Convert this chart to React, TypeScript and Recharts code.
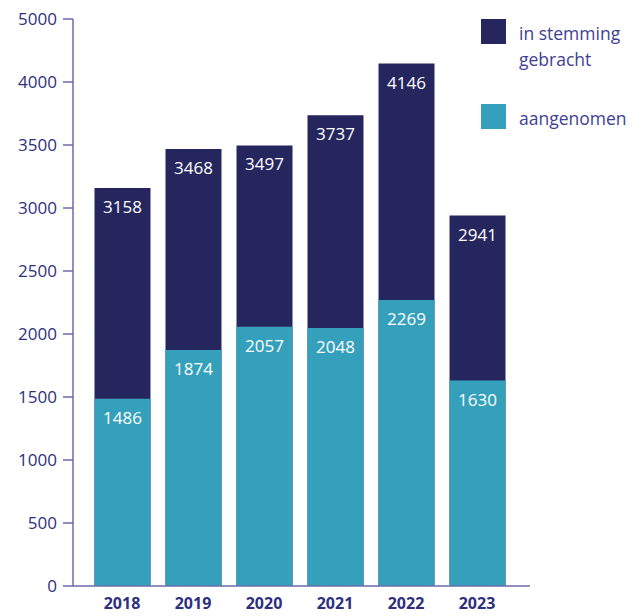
import React from "react";
import { BarChart, Bar, XAxis, YAxis, LabelList, Legend } from "recharts";

const years = ["2018", "2019", "2020", "2021", "2022", "2023"];
const inStemmingGebracht = [3158, 3468, 3497, 3737, 4146, 2941];
const aangenomen = [1486, 1874, 2057, 2048, 2269, 1630];
const yTicks = [0, 500, 1000, 1500, 2000, 2500, 3000, 3500, 4000, 4500];
const yTickLabels = ["0", "500", "1000", "1500", "2000", "2500", "3000", "3500", "4000", "5000"];

const DARK = "#26265f";
const TEAL = "#35a0bc";
const AXIS = "#6d6dab";
const TEXT = "#2e2f7e";
const FONT = "'Open Sans', sans-serif";

const data = years.map((y, i) => ({
  year: y,
  gebracht: inStemmingGebracht[i],
  aangenomen: aangenomen[i],
}));

const LegendContent = () => (
  <div style={{ position: "relative", width: 643, height: 0, fontFamily: FONT }}>
    <div style={{ position: "absolute", left: 481, top: 19, width: 25, height: 25, background: DARK }} />
    <div style={{ position: "absolute", left: 519, top: 20, fontSize: 17.5, lineHeight: "26px", color: "#3e3f92" }}>
      in stemming
      <br />
      gebracht
    </div>
    <div style={{ position: "absolute", left: 481, top: 104, width: 25, height: 25, background: TEAL }} />
    <div style={{ position: "absolute", left: 519, top: 105, fontSize: 17.5, lineHeight: "26px", color: "#3e3f92" }}>
      aangenomen
    </div>
  </div>
);

export default function App() {
  return (
    <div style={{ position: "absolute", left: 0, top: 0 }}>
      <BarChart
        width={643}
        height={616}
        data={data}
        margin={{ top: 19, right: 113, bottom: 0, left: 0 }}
        barSize={56}
      >
        <Legend
          content={<LegendContent />}
          verticalAlign="top"
          align="left"
          wrapperStyle={{ left: 0, top: 0, width: 643, height: 0 }}
        />
        <XAxis
          xAxisId="a"
          dataKey="year"
          padding={{ left: 13.5, right: 17.5 }}
          tickLine={false}
          tickSize={0}
          tickMargin={12}
          height={30}
          axisLine={{ stroke: AXIS, strokeWidth: 1.5 }}
          tick={{ fill: TEXT, fontSize: 16, fontWeight: 700, fontFamily: FONT }}
        />
        <XAxis xAxisId="b" dataKey="year" padding={{ left: 13.5, right: 17.5 }} hide />
        <YAxis
          type="number"
          domain={[0, 4500]}
          ticks={yTicks}
          interval={0}
          width={73}
          tickSize={10}
          tickMargin={6}
          tickFormatter={(v: number) => yTickLabels[yTicks.indexOf(v)]}
          axisLine={{ stroke: AXIS, strokeWidth: 1.5 }}
          tickLine={{ stroke: AXIS, strokeWidth: 1.5 }}
          tick={{ fill: TEXT, fontSize: 17, fontFamily: FONT }}
        />
        <Bar xAxisId="a" dataKey="gebracht" fill={DARK} isAnimationActive={false}>
          <LabelList
            dataKey="gebracht"
            position="insideTop"
            offset={13}
            fill="#ffffff"
            style={{ fontSize: 17, fontFamily: FONT }}
          />
        </Bar>
        <Bar xAxisId="b" dataKey="aangenomen" fill={TEAL} isAnimationActive={false}>
          <LabelList
            dataKey="aangenomen"
            position="insideTop"
            offset={13}
            fill="#ffffff"
            style={{ fontSize: 17, fontFamily: FONT }}
          />
        </Bar>
      </BarChart>
    </div>
  );
}
